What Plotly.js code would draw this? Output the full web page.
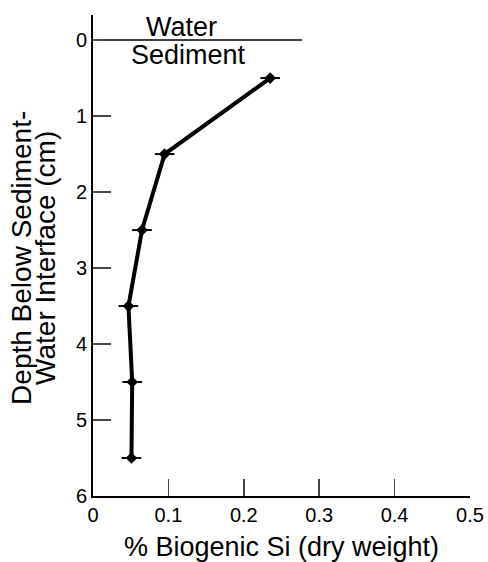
<!DOCTYPE html>
<html><head><meta charset="utf-8">
<script src="https://cdn.plot.ly/plotly-3.0.1.min.js"></script>
<style>body{margin:0;background:#fff}#c{width:488px;height:562px}</style>
</head><body><div id="c"></div>
<script>
const silica = [0.235, 0.095, 0.065, 0.047, 0.052, 0.051];
const depth = [0.5, 1.5, 2.5, 3.5, 4.5, 5.5];
const xTicks = [0, 0.1, 0.2, 0.3, 0.4, 0.5];
const xTickText = ['0', '0.1', '0.2', '0.3', '0.4', '0.5'];
const yTicks = [0, 1, 2, 3, 4, 5, 6];
const interfaceX = [0, 0.277];
const interfaceY = [0, 0];
const yTitleLines = ['Depth Below Sediment-', 'Water Interface (cm)'];

const font = 'Liberation Sans, Arial, sans-serif';
const traces = [
  {x: interfaceX, y: interfaceY, mode: 'lines', line: {color: '#000', width: 1.5}, showlegend: false, hoverinfo: 'skip'},
  {x: silica, y: depth, mode: 'lines+markers', line: {color: '#000', width: 4},
   marker: {symbol: 'diamond', size: 9, color: '#000'}, showlegend: false},
  {x: silica, y: depth, mode: 'markers', marker: {symbol: 'line-ew', size: 14, line: {color: '#000', width: 2}}, showlegend: false, hoverinfo: 'skip'}
];
const layout = {
  width: 488, height: 562,
  margin: {l: 93, r: 18, t: 15, b: 66},
  paper_bgcolor: '#fff', plot_bgcolor: '#fff',
  font: {family: font, color: '#000', size: 20},
  xaxis: {range: [0, 0.5], tickvals: xTicks, ticktext: xTickText, ticks: 'inside', ticklen: 17, tickwidth: 1.5,
    showline: true, linewidth: 2, linecolor: '#000', showgrid: false, zeroline: false,
    title: {text: '% Biogenic Si (dry weight)', font: {size: 27}, standoff: 12}, tickfont: {size: 20}},
  yaxis: {range: [6, -0.33], tickvals: yTicks, ticks: 'inside', ticklen: 18, tickwidth: 1.5,
    showline: true, linewidth: 2, linecolor: '#000', showgrid: false, zeroline: false,
    tickfont: {size: 20}},
  annotations: [
    {x: 0.118, y: 0, yshift: 13, text: 'Water', showarrow: false, font: {size: 27}, xanchor: 'center', yanchor: 'middle'},
    {x: 0.126, y: 0, yshift: -15, text: 'Sediment', showarrow: false, font: {size: 27}, xanchor: 'center', yanchor: 'middle'},
    {xref: 'paper', yref: 'paper', x: 0, y: 0.495, xshift: -71, text: yTitleLines[0], textangle: -90, showarrow: false, font: {size: 28}, xanchor: 'center', yanchor: 'middle'},
    {xref: 'paper', yref: 'paper', x: 0, y: 0.495, xshift: -47, text: yTitleLines[1], textangle: -90, showarrow: false, font: {size: 28}, xanchor: 'center', yanchor: 'middle'}
  ]
};
Plotly.newPlot('c', traces, layout, {displayModeBar: false, staticPlot: true});
</script></body></html>
